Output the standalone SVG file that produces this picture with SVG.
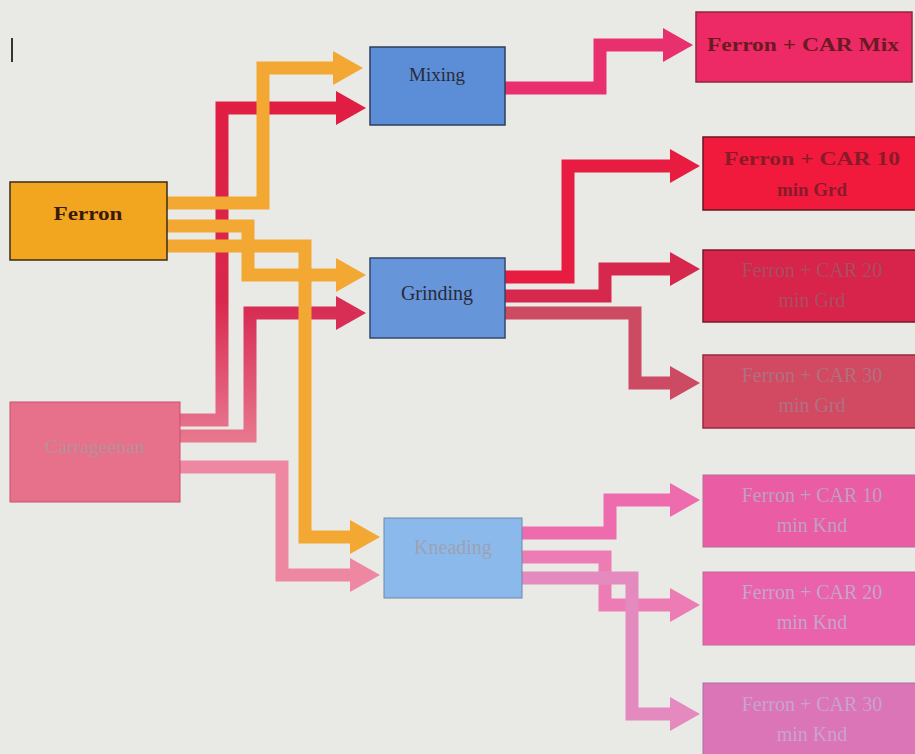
<svg xmlns="http://www.w3.org/2000/svg" width="915" height="754" viewBox="0 0 915 754">
<defs>
<style>
.t{font-family:"Liberation Serif","Times New Roman",serif;text-anchor:middle}
.b{font-weight:bold}
.c{fill:none;stroke-width:13;stroke-linejoin:miter}
.nb{stroke-width:1.5}
</style>
<marker id="aO" markerUnits="userSpaceOnUse" viewBox="0 -17 30 34" refX="2" refY="0" markerWidth="30" markerHeight="34" orient="auto"><path d="M0,-17L30,0L0,17z" fill="#F2A832"/></marker>
<marker id="aR" markerUnits="userSpaceOnUse" viewBox="0 -17 30 34" refX="2" refY="0" markerWidth="30" markerHeight="34" orient="auto"><path d="M0,-17L30,0L0,17z" fill="#E01E44"/></marker>
<marker id="aR2" markerUnits="userSpaceOnUse" viewBox="0 -17 30 34" refX="2" refY="0" markerWidth="30" markerHeight="34" orient="auto"><path d="M0,-17L30,0L0,17z" fill="#D82E56"/></marker>
<marker id="aP" markerUnits="userSpaceOnUse" viewBox="0 -17 30 34" refX="2" refY="0" markerWidth="30" markerHeight="34" orient="auto"><path d="M0,-17L30,0L0,17z" fill="#EE88A2"/></marker>
<marker id="aM" markerUnits="userSpaceOnUse" viewBox="0 -17 30 34" refX="2" refY="0" markerWidth="30" markerHeight="34" orient="auto"><path d="M0,-17L30,0L0,17z" fill="#E8306E"/></marker>
<marker id="aG1" markerUnits="userSpaceOnUse" viewBox="0 -17 30 34" refX="2" refY="0" markerWidth="30" markerHeight="34" orient="auto"><path d="M0,-17L30,0L0,17z" fill="#E81C40"/></marker>
<marker id="aG2" markerUnits="userSpaceOnUse" viewBox="0 -17 30 34" refX="2" refY="0" markerWidth="30" markerHeight="34" orient="auto"><path d="M0,-17L30,0L0,17z" fill="#D6284C"/></marker>
<marker id="aG3" markerUnits="userSpaceOnUse" viewBox="0 -17 30 34" refX="2" refY="0" markerWidth="30" markerHeight="34" orient="auto"><path d="M0,-17L30,0L0,17z" fill="#CC4A62"/></marker>
<marker id="aK1" markerUnits="userSpaceOnUse" viewBox="0 -17 30 34" refX="2" refY="0" markerWidth="30" markerHeight="34" orient="auto"><path d="M0,-17L30,0L0,17z" fill="#EE6CAE"/></marker>
<marker id="aK2" markerUnits="userSpaceOnUse" viewBox="0 -17 30 34" refX="2" refY="0" markerWidth="30" markerHeight="34" orient="auto"><path d="M0,-17L30,0L0,17z" fill="#EE7CB4"/></marker>
<marker id="aK3" markerUnits="userSpaceOnUse" viewBox="0 -17 30 34" refX="2" refY="0" markerWidth="30" markerHeight="34" orient="auto"><path d="M0,-17L30,0L0,17z" fill="#E48ABE"/></marker>
<linearGradient id="gR1" gradientUnits="userSpaceOnUse" x1="0" y1="110" x2="0" y2="425"><stop offset="0" stop-color="#E01E44"/><stop offset="0.6" stop-color="#D8284C"/><stop offset="1" stop-color="#E6708C"/></linearGradient>
<linearGradient id="gR2" gradientUnits="userSpaceOnUse" x1="0" y1="313" x2="0" y2="440"><stop offset="0" stop-color="#D82E56"/><stop offset="1" stop-color="#E8788E"/></linearGradient>
</defs>
<rect width="915" height="754" fill="#E9EAE6"/>
<line x1="12" y1="38" x2="12" y2="62" stroke="#333" stroke-width="2"/>

<g id="connectors">
<path class="c" d="M180,420H222V108H338" stroke="url(#gR1)" marker-end="url(#aR)"/>
<path class="c" d="M180,436H250V313H338" stroke="url(#gR2)" marker-end="url(#aR2)"/>
<path class="c" d="M180,467H282V575H352" stroke="#EE88A2" marker-end="url(#aP)"/>
<path class="c" d="M167,203H263V68H335" stroke="#F2A832" marker-end="url(#aO)"/>
<path class="c" d="M167,226H248V275H338" stroke="#F2A832" marker-end="url(#aO)"/>
<path class="c" d="M167,246H305V537H352" stroke="#F2A832" marker-end="url(#aO)"/>
<path class="c" d="M505,88H600V45H665" stroke="#E8306E" marker-end="url(#aM)"/>
<path class="c" d="M505,277H568V166H672" stroke="#E81C40" marker-end="url(#aG1)"/>
<path class="c" d="M505,296H605V269H672" stroke="#D6284C" marker-end="url(#aG2)"/>
<path class="c" d="M505,313H635V383H672" stroke="#CC4A62" marker-end="url(#aG3)"/>
<path class="c" d="M522,533H610V500H672" stroke="#EE6CAE" marker-end="url(#aK1)"/>
<path class="c" d="M522,557H605V605H672" stroke="#EE7CB4" marker-end="url(#aK2)"/>
<path class="c" d="M522,578H632V714H672" stroke="#E48ABE" marker-end="url(#aK3)"/>
</g>

<g id="ferron">
<rect class="nb" x="10" y="182" width="157" height="78" fill="#F2A51E" stroke="#3B2B1A"/>
<text class="t b" x="88" y="220" font-size="19" fill="#3A1A0A" textLength="69" lengthAdjust="spacingAndGlyphs">Ferron</text>
</g>
<g id="carrageenan">
<rect x="10" y="402" width="170" height="100" fill="#E7708A" stroke="#C85070" stroke-width="1"/>
<text class="t" x="95" y="453" font-size="19" fill="#B8909A" textLength="100" lengthAdjust="spacingAndGlyphs">Carrageenan</text>
</g>
<g id="mixing">
<rect class="nb" x="370" y="47" width="135" height="78" fill="#5B8ED6" stroke="#2C3E5C"/>
<text class="t" x="437" y="81" font-size="19" fill="#2A2A3A">Mixing</text>
</g>
<g id="grinding">
<rect class="nb" x="370" y="258" width="135" height="80" fill="#6695DA" stroke="#34486A"/>
<text class="t" x="437" y="300" font-size="20" fill="#2A2A3A">Grinding</text>
</g>
<g id="kneading">
<rect x="384" y="518" width="138" height="80" fill="#8CB9EC" stroke="#6A88AA" stroke-width="1"/>
<text class="t" x="453" y="554" font-size="20" fill="#9CA2B2">Kneading</text>
</g>

<g id="mix-out">
<rect class="nb" x="696" y="12" width="216" height="70" fill="#EE2A66" stroke="#8A2A3A"/>
<text class="t b" x="803" y="51" font-size="19" fill="#6A1A22" textLength="192" lengthAdjust="spacingAndGlyphs">Ferron + CAR Mix</text>
</g>
<g id="grd10">
<rect class="nb" x="703" y="137" width="214" height="73" fill="#F21A3C" stroke="#6A1420"/>
<text class="t b" x="812" y="165" font-size="19" fill="#8A1A2A" textLength="176" lengthAdjust="spacingAndGlyphs">Ferron + CAR 10</text>
<text class="t b" x="812" y="196" font-size="19" fill="#8A1A2A">min Grd</text>
</g>
<g id="grd20">
<rect class="nb" x="703" y="250" width="214" height="72" fill="#D8244A" stroke="#7A1A2A"/>
<text class="t" x="812" y="277" font-size="20" fill="#A84E62">Ferron + CAR 20</text>
<text class="t" x="812" y="307" font-size="20" fill="#A84E62">min Grd</text>
</g>
<g id="grd30">
<rect x="703" y="355" width="214" height="73" fill="#D24A62" stroke="#9A2A40" stroke-width="1.5"/>
<text class="t" x="812" y="382" font-size="20" fill="#B07080">Ferron + CAR 30</text>
<text class="t" x="812" y="412" font-size="20" fill="#B07080">min Grd</text>
</g>
<g id="knd10">
<rect x="703" y="475" width="214" height="72" fill="#EA5CA4" stroke="#B86A9A" stroke-width="1"/>
<text class="t" x="812" y="502" font-size="20" fill="#C0A0C0">Ferron + CAR 10</text>
<text class="t" x="812" y="532" font-size="20" fill="#C0A0C0">min Knd</text>
</g>
<g id="knd20">
<rect x="703" y="572" width="214" height="73" fill="#EA62AC" stroke="#B86A9A" stroke-width="1"/>
<text class="t" x="812" y="599" font-size="20" fill="#C4A6C6">Ferron + CAR 20</text>
<text class="t" x="812" y="629" font-size="20" fill="#C4A6C6">min Knd</text>
</g>
<g id="knd30">
<rect x="703" y="683" width="214" height="75" fill="#DC74B8" stroke="#A870A0" stroke-width="1"/>
<text class="t" x="812" y="711" font-size="20" fill="#C8A4CC">Ferron + CAR 30</text>
<text class="t" x="812" y="741" font-size="20" fill="#C8A4CC">min Knd</text>
</g>
</svg>
